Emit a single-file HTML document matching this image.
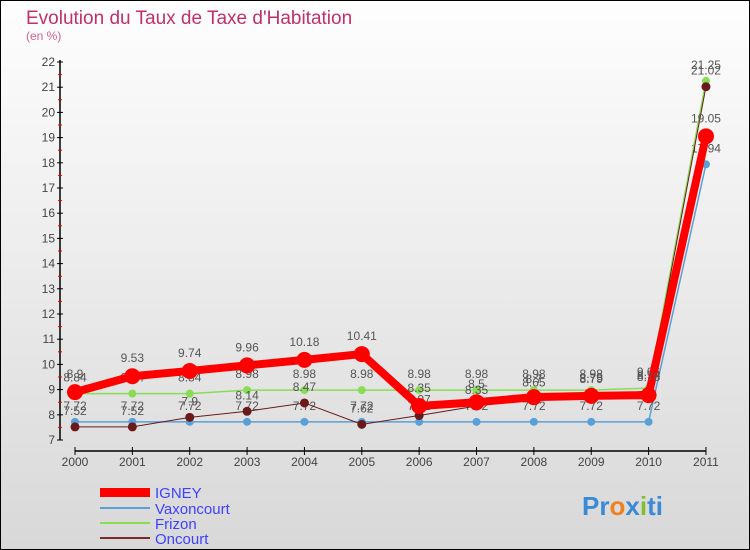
<!DOCTYPE html>
<html><head><meta charset="utf-8"><style>
body{margin:0}
svg{display:block;font-family:"Liberation Sans",sans-serif}
</style></head><body>
<svg id="c" width="750" height="550" viewBox="0 0 750 550">
<defs><linearGradient id="bg" x1="0" y1="0" x2="0" y2="1"><stop offset="0" stop-color="#fefefe"/><stop offset="1" stop-color="#d8d8d8"/></linearGradient></defs>
<rect x="0.5" y="0.5" width="749" height="549" fill="url(#bg)" stroke="#000"/>
<text x="26" y="24" font-size="19" fill="#c0306a">Evolution du Taux de Taxe d'Habitation</text>
<text x="26" y="40" font-size="12" fill="#d06090">(en %)</text>
<g id="axes"></g>
<g id="series"></g>
<g id="legend">
<rect x="100" y="488" width="50" height="9" fill="#ff0000"/>
<text x="155" y="498" font-size="15" fill="#4040ff">IGNEY</text>
<rect x="100" y="507" width="50" height="2" fill="#5aa0d8"/>
<text x="155" y="514" font-size="15" fill="#4040ff">Vaxoncourt</text>
<rect x="100" y="522" width="50" height="2" fill="#88dd55"/>
<text x="155" y="529" font-size="15" fill="#4040ff">Frizon</text>
<rect x="100" y="537" width="50" height="2" fill="#7a2a2a"/>
<text x="155" y="544" font-size="15" fill="#4040ff">Oncourt</text>
</g>
<text x="582" y="515" font-size="26" font-weight="bold" fill="#3a8ad8">Pr<tspan fill="#f08020">o</tspan>x<tspan fill="#80c030">i</tspan>ti</text>
</svg>
<script>
const years=[2000,2001,2002,2003,2004,2005,2006,2007,2008,2009,2010,2011];
const yTicks=[7,8,9,10,11,12,13,14,15,16,17,18,19,20,21,22];
const igney=[8.9,9.53,9.74,9.96,10.18,10.41,8.35,8.5,8.7,8.75,8.78,19.05];
const vaxoncourt=[7.72,7.72,7.72,7.72,7.72,7.72,7.72,7.72,7.72,7.72,7.72,17.94];
const frizon=[8.84,8.84,8.84,8.98,8.98,8.98,8.98,8.98,8.98,8.98,9.06,21.25];
const oncourt=[7.52,7.52,7.9,8.14,8.47,7.62,7.97,8.35,8.65,8.79,8.94,21.02];
const NS='http://www.w3.org/2000/svg';
const X=i=>75+i*57.36;
const Y=v=>440-(v-7)*25.2;
function mk(t,a,p){const e=document.createElementNS(NS,t);for(const k in a)e.setAttribute(k,a[k]);p.appendChild(e);return e;}
const ax=document.getElementById('axes');
let yl=mk('line',{x1:60,y1:Y(22)-2,x2:60,y2:Y(7),stroke:'#000','stroke-width':1.5},ax);


yTicks.forEach(v=>{
 mk('line',{x1:57,x2:63,y1:Y(v),y2:Y(v),stroke:'#000'},ax);
 if(v<22)mk('line',{x1:58,x2:62,y1:Y(v+0.5),y2:Y(v+0.5),stroke:'#e00'},ax);
 const t=mk('text',{x:55,y:Y(v)+4,'text-anchor':'end','font-size':12,fill:'#444'},ax);t.textContent=v;
 
 
});
let xl=mk('line',{x1:X(0),y1:451,x2:X(11),y2:451,stroke:'#000','stroke-width':1.5},ax);


years.forEach((y,i)=>{
 mk('line',{x1:X(i),x2:X(i),y1:447,y2:455,stroke:'#000'},ax);
 const t=mk('text',{x:X(i),y:466,'text-anchor':'middle','font-size':12,fill:'#444'},ax);t.textContent=y;
 
 
});
const sg=document.getElementById('series');
function draw(name,data,color,w,r,labelDy){
 const g=mk('g',{},sg);
 
 
 mk('polyline',{points:data.map((v,i)=>X(i)+','+Y(v)).join(' '),fill:'none',stroke:color,'stroke-width':w,'stroke-linejoin':'round'},g);
 data.forEach((v,i)=>{
  const c=mk('circle',{cx:X(i),cy:Y(v),r:r,fill:color},g);
  
  
  const t=mk('text',{x:X(i),y:Y(v)+labelDy,'text-anchor':'middle','font-size':12,fill:'#555'},g);
  t.textContent=String(v);
  
  
 });
}
draw('vaxoncourt',vaxoncourt,'#5aa0d8',1.5,4,-12);
draw('frizon',frizon,'#88dd55',1.5,4,-12);
draw('oncourt',oncourt,'#6a1a1a',1,4.5,-12);
draw('igney',igney,'#ff0000',8,8,-14);
</script>
</body></html>
